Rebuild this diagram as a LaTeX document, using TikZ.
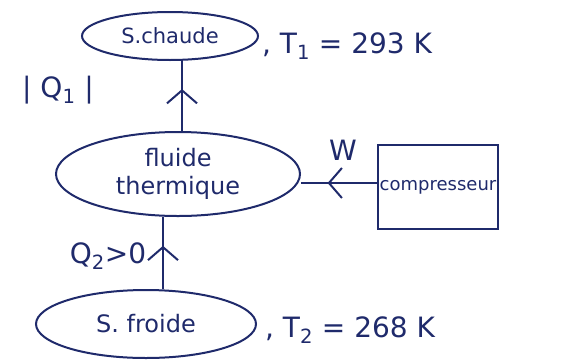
\documentclass[tikz,border=0pt]{standalone}
\usepackage{fontspec}
\setmainfont{DejaVu Sans}
\usetikzlibrary{arrows.meta,decorations.markings,shapes.geometric}
\definecolor{ink}{HTML}{1F2A6B}
\tikzset{
  ink/.style={draw=ink, line width=2pt},
  source/.style={ink, ellipse, inner sep=0pt},
  lbl/.style={text=ink, font=\fontsize{24}{28}\selectfont, inner sep=0pt},
  big/.style={font=\fontsize{28}{32}\selectfont},
  midarrow/.style={ink, postaction={decorate}, decoration={markings,
      mark=at position #1 with {\arrow{Straight Barb[length=13pt,width=30pt,line width=2pt]}}}}
}
\begin{document}
\begin{tikzpicture}[x=1pt,y=-1pt]
  \useasboundingbox (0,0) rectangle (561,362);
  % reservoirs and working fluid
  \node[source, minimum width=176pt, minimum height=48pt, lbl, font=\fontsize{21}{24}\selectfont] (hot) at (170,36) {S.chaude};
  \node[source, minimum width=244pt, minimum height=84pt, lbl, align=center] (fluid) at (178,174) {fluide\\thermique};
  \node[source, minimum width=220pt, minimum height=68pt, lbl] (cold) at (146,324) {S. froide};
  % compressor
  \node[ink, rectangle, minimum width=120pt, minimum height=84pt, lbl, font=\fontsize{18}{21}\selectfont] (comp) at (438,187) {compresseur};
  % temperatures and exchanged quantities
  \node[lbl, big, anchor=west] (t1) at (262,46) {, T\textsubscript{1} = 293 K};
  \node[lbl, big, anchor=west] (t2) at (265,330) {, T\textsubscript{2} = 268 K};
  \node[lbl, big] (q1) at (58,90) {| Q\textsubscript{1} |};
  \node[lbl, big] (q2) at (108,256) {Q\textsubscript{2}>0};
  \node[lbl, big] (w) at (343,150) {W};
  % guide lines for the flows
  \coordinate (xup) at (182,0);
  \coordinate (xdown) at (163,0);
  \coordinate (yw) at (0,183);
  % energy flows
  \draw[midarrow=0.6] (fluid.north -| xup) -- (hot.south -| xup);
  \draw[midarrow=0.6] (cold.north -| xdown) -- (fluid.south -| xdown);
  \draw[midarrow=0.65] (comp.west |- yw) -- (fluid.east |- yw);
\end{tikzpicture}
\end{document}
